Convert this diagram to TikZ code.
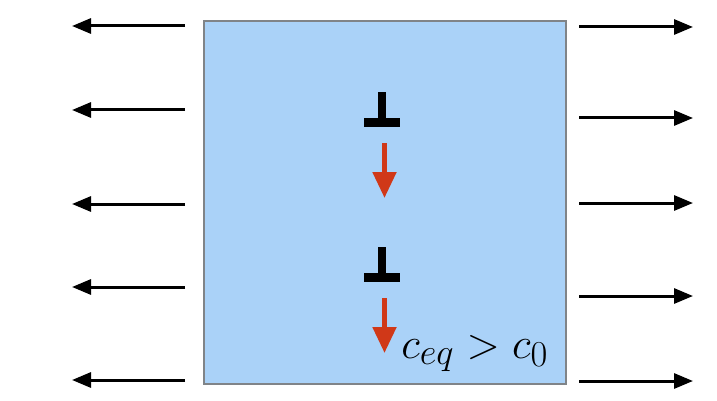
\documentclass[tikz,border=0pt]{standalone}
\usetikzlibrary{arrows.meta}
\definecolor{crystal}{RGB}{170,210,248}
\definecolor{rim}{RGB}{128,132,136}
\definecolor{glide}{RGB}{208,56,24}
\begin{document}
\begin{tikzpicture}[x=1pt,y=-1pt,
  outflow/.style={line width=3pt,-{Triangle[length=19pt,width=15pt]}},
  climb/.style={glide,line width=5pt,-{Triangle[length=26pt,width=23pt]}},
  disl/.style={fill=black}]
\useasboundingbox (0,0) rectangle (717,401);
% crystal block
\draw[rim,line width=2pt,fill=crystal] (203.5,21.5) rectangle (566,384);
% vacancy flux leaving on the left
\foreach \i/\y in {1/26,2/110,3/204,4/287,5/380}{
  \coordinate (l\i s) at (185,\y);
  \coordinate (l\i e) at (72,\y);
  \draw[outflow] (l\i s) -- (l\i e);
}
% vacancy flux leaving on the right
\foreach \i/\y in {1/27,2/118,3/203,4/296,5/381}{
  \coordinate (r\i s) at (579,\y);
  \coordinate (r\i e) at (693,\y);
  \draw[outflow] (r\i s) -- (r\i e);
}
% edge dislocations and their climb direction
\foreach \i/\y in {1/92,2/247}{
  \fill[disl] (378,\y) rectangle (386,\y+28);
  \fill[disl] (364,\y+26) rectangle (400,\y+35);
  \coordinate (d\i s) at (384.5,\y+51);
  \coordinate (d\i e) at (384.5,\y+106);
  \draw[climb] (d\i s) -- (d\i e);
}
\node[anchor=base west,inner sep=0pt,scale=1.76,font=\fontsize{24.88}{28}\selectfont] (cond) at (401,358) {$c_{eq} > c_0$};
\end{tikzpicture}
\end{document}
